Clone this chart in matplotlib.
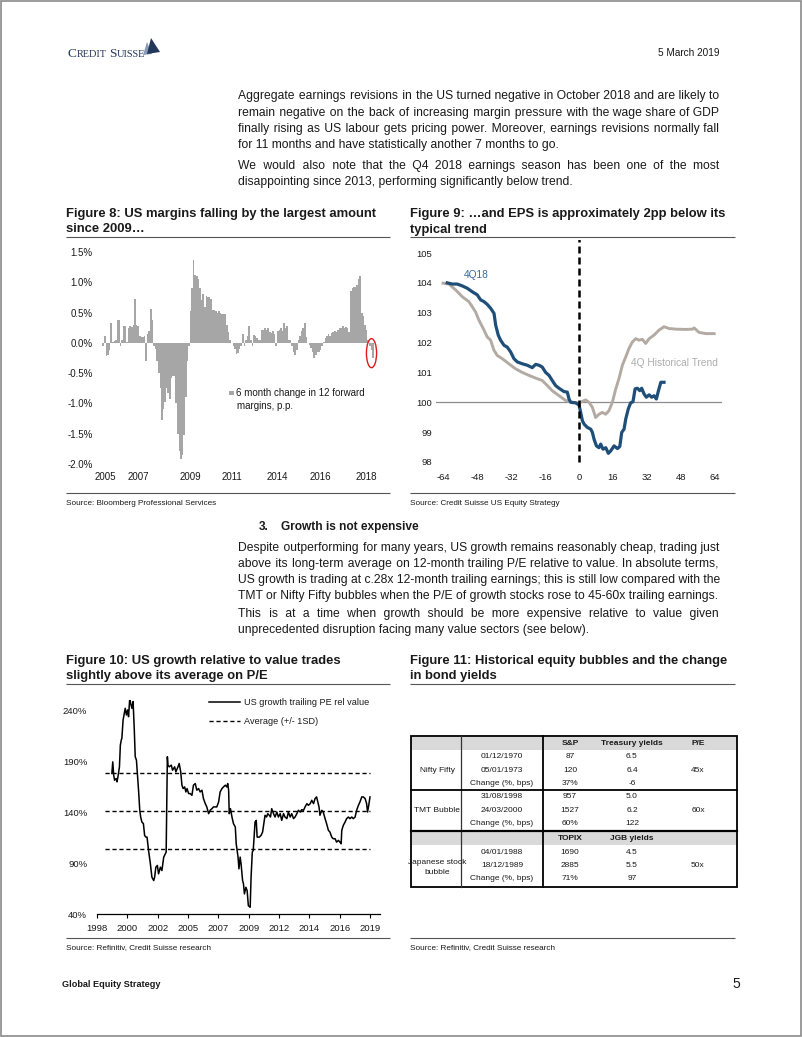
import numpy as np
import matplotlib.pyplot as plt
from matplotlib.patches import Ellipse, Rectangle, Polygon

W, H = 802, 1037
plt.rcParams['font.family'] = ['Liberation Sans', 'DejaVu Sans']
plt.rcParams['axes.unicode_minus'] = False

# ---- Figure 8: 6 month change in 12m forward margins (p.p.), one bar per month
margin_chg = [
    -0.05, 0.12, -0.22, -0.20, -0.12, 0.32, 0.02, 0.03, 0.05, 0.38,
    0.38, -0.05, 0.05, 0.28, 0.28, 0.02, 0.25, 0.28, 0.26, 0.30,
    0.72, 0.30, 0.28, 0.12, 0.10, 0.10, 0.12, -0.30, 0.15, 0.20,
    0.56, 0.38, -0.05, -0.10, -0.30, -0.50, -0.75, -1.28, -1.10, -0.98,
    -0.75, -0.82, -0.92, -0.58, -0.55, -0.55, -1.00, -1.50, -1.78, -1.92,
    -1.85, -1.52, -0.90, -0.30, -0.05, 0.52, 0.90, 1.37, 1.12, 1.10,
    1.05, 0.90, 0.70, 0.80, 0.60, 0.78, 0.75, 0.75, 0.72, 0.55,
    0.55, 0.53, 0.50, 0.52, 0.50, 0.48, 0.48, 0.48, 0.30, 0.18,
    0.05, 0.00, -0.05, -0.10, -0.18, -0.17, -0.10, -0.05, 0.15, -0.05,
    0.05, 0.12, 0.28, 0.05, -0.05, 0.13, 0.12, 0.08, 0.05, 0.05,
    0.22, 0.22, 0.25, 0.22, 0.24, 0.18, 0.16, 0.20, 0.15, -0.05,
    0.20, 0.22, 0.24, 0.20, 0.32, 0.25, 0.28, 0.05, 0.05, -0.05,
    -0.15, -0.20, -0.12, 0.05, 0.12, 0.20, 0.25, 0.32, 0.10, 0.00,
    -0.03, -0.08, -0.15, -0.25, -0.20, -0.15, -0.15, -0.12, -0.05, 0.02,
    0.08, 0.12, 0.14, 0.12, 0.16, 0.18, 0.20, 0.18, 0.22, 0.25,
    0.25, 0.28, 0.25, 0.27, 0.25, 0.18, 0.85, 0.90, 0.92, 0.92,
    0.95, 1.05, 1.10, 0.50, 0.45, 0.30, 0.22, 0.05, -0.05, -0.12,
    -0.25,
]
margin_tick_pos = [1, 22, 55, 81, 110, 137, 166]
margin_tick_lab = ['2005', '2007', '2009', '2011', '2014', '2016', '2018']

# ---- Figure 9: EPS path around reporting (weeks), index = 100 at 0
trend_x = [-64, -61.2, -58, -55, -51.8, -48.7, -47.1, -44.7, -43.2, -41.6,
           -40, -38.5, -36.1, -33, -29.8, -26.7, -23.5, -20.4, -17.3, -14.9,
           -12.6, -9.4, -6.3, -3.1, 0, 1.3, 3.1, 4.7, 6.3, 7.8,
           9.4, 11, 12.6, 14.1, 15.7, 17.3, 18.8, 20.4, 22, 23.5,
           25.1, 26.7, 28.3, 29.8, 31.4, 33, 35.3, 37.7, 40, 42.4,
           45.5, 50.2, 53.4, 54.2, 56.5, 59.7, 63.6]
trend_y = [103.99, 103.96, 103.76, 103.54, 103.37, 103.03, 102.75, 102.42, 102.19, 102.08,
           101.74, 101.57, 101.46, 101.29, 101.12, 101.0, 100.9, 100.81, 100.73, 100.56,
           100.39, 100.22, 100.06, 100.0, 99.98, 100.02, 100.08, 100.0, 99.83, 99.49,
           99.6, 99.66, 99.6, 99.72, 100.0, 100.45, 100.79, 101.24, 101.52, 101.8,
           102.02, 102.13, 102.08, 102.11, 101.97, 102.13, 102.25, 102.42, 102.53, 102.47,
           102.45, 102.44, 102.45, 102.49, 102.34, 102.3, 102.3]
q418_x = [-62, -59.7, -57.3, -55, -52.6, -50.2, -47.9, -46.3, -44.7, -43.2,
          -41.6, -40, -39.2, -38, -36.9, -35.3, -33.8, -32.2, -30.6, -29,
          -26.7, -24.3, -22, -20.4, -18.8, -17.3, -15.7, -14.1, -12.6, -11,
          -9.4, -7.1, -5.5, -4.7, -3.9, -1.6, 0, 0.8, 1.6, 2.4,
          3.9, 5.5, 6.3, 7.1, 8.2, 9.4, 10.2, 11.3, 12.6, 13.8,
          14.9, 16.5, 18.1, 19.2, 20.1, 21.2, 22, 23.2, 24.3, 25.4,
          26.4, 27.5, 28.6, 29.5, 30.6, 31.7, 33, 34.2, 35.3, 36.4,
          37.4, 38.5, 40]
q418_y = [104.0, 103.96, 103.96, 103.9, 103.82, 103.7, 103.6, 103.43, 103.37, 103.28,
          103.15, 102.98, 102.58, 102.25, 102.08, 101.91, 101.85, 101.69, 101.46, 101.35,
          101.29, 101.24, 101.16, 101.27, 101.24, 101.18, 101.0, 100.9, 100.73, 100.56,
          100.47, 100.36, 100.34, 100.11, 100.0, 99.98, 99.91, 99.66, 99.38, 99.27,
          99.16, 99.1, 98.99, 98.76, 98.54, 98.48, 98.6, 98.43, 98.48, 98.29,
          98.37, 98.54, 98.45, 98.52, 98.99, 99.1, 99.44, 99.78, 99.98, 100.02,
          100.45, 100.47, 100.39, 100.47, 100.28, 100.17, 100.25, 100.17, 100.22, 100.11,
          100.39, 100.67, 100.67]

# ---- Figure 10: US growth trailing PE relative to value (%), x in axis label steps
pe_points = [
    (0.49, 177.8), (0.52, 189.2), (0.55, 176.1), (0.58, 171.2), (0.63, 172.8), (0.66, 169.6), (0.69, 174.5), (0.74, 184.3),
    (0.77, 205.6), (0.80, 210.6), (0.82, 212.2), (0.86, 230.2), (0.90, 236.8), (0.93, 241.7), (0.97, 235.2), (1.01, 240.1),
    (1.04, 233.5), (1.08, 251.6), (1.11, 246.6), (1.15, 241.7), (1.19, 248.3), (1.23, 220.4), (1.26, 194.2), (1.30, 190.9),
    (1.34, 174.5), (1.37, 161.4), (1.41, 141.7), (1.44, 135.1), (1.48, 130.2), (1.53, 128.6), (1.57, 117.1), (1.61, 115.4),
    (1.65, 115.4), (1.70, 102.3), (1.76, 89.2), (1.81, 76.1), (1.87, 72.8), (1.90, 76.1), (1.94, 85.9), (1.99, 87.6),
    (2.03, 79.4), (2.09, 85.9), (2.14, 82.6), (2.20, 95.8), (2.25, 99.0), (2.28, 100.7), (2.32, 194.2), (2.34, 186.0),
    (2.38, 184.3), (2.45, 186.0), (2.49, 181.0), (2.56, 184.3), (2.60, 179.4), (2.67, 184.3), (2.71, 187.6), (2.76, 179.4),
    (2.80, 166.3), (2.84, 163.0), (2.89, 164.6), (2.93, 159.7), (2.97, 163.0), (3.02, 158.1), (3.07, 158.1), (3.13, 156.4),
    (3.18, 166.3), (3.24, 167.9), (3.29, 161.4), (3.35, 163.0), (3.40, 159.7), (3.46, 161.4), (3.51, 153.2), (3.57, 148.2),
    (3.62, 145.0), (3.68, 138.4), (3.73, 141.7), (3.79, 143.3), (3.84, 145.0), (3.90, 145.0), (3.95, 145.0), (4.01, 149.9),
    (4.06, 159.7), (4.12, 163.0), (4.17, 164.6), (4.23, 166.3), (4.28, 164.6), (4.31, 167.9), (4.34, 161.4), (4.36, 138.4),
    (4.40, 143.3), (4.45, 135.1), (4.50, 128.6), (4.56, 125.3), (4.59, 108.9), (4.62, 102.3), (4.65, 95.8), (4.68, 84.3),
    (4.72, 95.8), (4.75, 89.2), (4.80, 72.8), (4.83, 69.5), (4.86, 59.7), (4.91, 66.2), (4.95, 63.0), (4.99, 48.2),
    (5.05, 46.6), (5.08, 76.1), (5.12, 100.7), (5.15, 102.3), (5.18, 115.4), (5.21, 130.2), (5.25, 131.8), (5.28, 115.4),
    (5.35, 115.4), (5.41, 117.1), (5.46, 120.4), (5.50, 128.6), (5.54, 136.8), (5.59, 135.1), (5.63, 138.4), (5.68, 136.8),
    (5.72, 135.1), (5.76, 143.3), (5.82, 138.4), (5.87, 135.1), (5.93, 140.0), (5.98, 135.1), (6.04, 138.4), (6.09, 131.8),
    (6.15, 138.4), (6.20, 135.1), (6.26, 133.5), (6.31, 140.0), (6.37, 135.1), (6.42, 138.4), (6.48, 133.5), (6.53, 135.1),
    (6.59, 138.4), (6.64, 141.7), (6.70, 140.0), (6.75, 142.3), (6.81, 141.7), (6.86, 145.0), (6.92, 148.2), (6.97, 146.6),
    (7.03, 148.2), (7.08, 151.5), (7.14, 148.2), (7.19, 153.2), (7.24, 154.8), (7.28, 149.9), (7.32, 145.0), (7.35, 136.8),
    (7.41, 141.7), (7.46, 140.0), (7.52, 133.5), (7.57, 128.6), (7.63, 122.0), (7.68, 120.4), (7.74, 115.4), (7.79, 113.8),
    (7.85, 113.8), (7.90, 110.5), (7.96, 112.2), (8.01, 110.5), (8.05, 108.9), (8.07, 122.0), (8.12, 126.9), (8.18, 130.2),
    (8.23, 133.5), (8.29, 135.1), (8.34, 133.5), (8.40, 135.1), (8.45, 133.5), (8.51, 135.1), (8.56, 141.7), (8.62, 146.6),
    (8.67, 149.9), (8.73, 154.8), (8.78, 154.8), (8.84, 153.2), (8.89, 148.2), (8.92, 140.0), (8.96, 146.6), (9.00, 154.8),
]
pe_avg, pe_sd = 141.0, 37.0
pe_tick_lab = ['1998', '2000', '2002', '2005', '2007', '2009', '2012', '2014', '2016', '2019']

# ---- Figure 11 table
tbl_headers = [['S&P', 'Treasury yields', 'P/E'], ['TOPIX', 'JGB yields', '']]
bubble_names = ['Nifty Fifty', 'TMT Bubble', 'Japanese stock\nbubble']
bubble_dates = [['01/12/1970', '05/01/1973', 'Change (%, bps)'],
                ['31/08/1998', '24/03/2000', 'Change (%, bps)'],
                ['04/01/1988', '18/12/1989', 'Change (%, bps)']]
index_vals = [['87', '120', '37%'], ['957', '1527', '60%'], ['1690', '2885', '71%']]
yield_vals = [['6.5', '6.4', '-6'], ['5.0', '6.2', '122'], ['4.5', '5.5', '97']]
pe_vals = ['45x', '60x', '50x']

# ---- text
para1 = ["Aggregate earnings revisions in the US turned negative in October 2018 and are likely to",
         "remain negative on the back of increasing margin pressure with the wage share of GDP",
         "finally rising as US labour gets pricing power. Moreover, earnings revisions normally fall",
         "for 11 months and have statistically another 7 months to go."]
para2 = ["We would also note that the Q4 2018 earnings season has been one of the most",
         "disappointing since 2013, performing significantly below trend."]
para3 = ["Despite outperforming for many years, US growth remains reasonably cheap, trading just",
         "above its long-term average on 12-month trailing P/E relative to value. In absolute terms,",
         "US growth is trading at c.28x 12-month trailing earnings; this is still low compared with the",
         "TMT or Nifty Fifty bubbles when the P/E of growth stocks rose to 45-60x trailing earnings."]
para4 = ["This is at a time when growth should be more expensive relative to value given",
         "unprecedented disruption facing many value sectors (see below)."]

TXT = '#1a1a1a'
BODY = 8.7
TITLE = 9.4
HAIR = '\u200a'
fig = plt.figure(figsize=(W / 100, H / 100), dpi=100)
page = fig.add_axes([0, 0, 1, 1])
page.set_xlim(0, W)
page.set_ylim(H, 0)
page.axis('off')
renderer = fig.canvas.get_renderer()


def ax_at(x0, y0, x1, y1):
    a = fig.add_axes([x0 / W, 1 - y1 / H, (x1 - x0) / W, (y1 - y0) / H])
    a.patch.set_visible(False)
    return a


def txt(x, y, s, size=BODY, **kw):
    kw.setdefault('va', 'baseline')
    kw.setdefault('color', TXT)
    return page.text(x, y, s, fontsize=size, **kw)


def measure(s, size, **kw):
    t = txt(0, 0, s, size, **kw)
    w = t.get_window_extent(renderer).width
    t.remove()
    return w


def rule(x0, x1, y, lw=0.8, color='#555555'):
    page.plot([x0, x1], [y, y], color=color, lw=lw, solid_capstyle='butt')


def justify(lines, x0, x1, y0, dy, size=BODY):
    # each line stays one text object; word gaps are widened with hair spaces
    hair = (measure('x' + HAIR * 40 + 'x', size) - measure('xx', size)) / 40
    for k, line in enumerate(lines):
        if k < len(lines) - 1 and hair > 0:
            words = line.split(' ')
            extra = (x1 - x0) - measure(line, size)
            total = max(0, int(round(extra / hair)))
            base, rem = divmod(total, len(words) - 1)
            s = words[0]
            for i, w in enumerate(words[1:]):
                s += ' ' + HAIR * (base + (1 if i < rem else 0)) + w
            line = s
        txt(x0, y0 + k * dy, line, size)


# page frame
page.add_patch(Rectangle((0.7, 0.7), W - 1.4, H - 1.4, fill=False, ec='#8a8a8a', lw=1.2, clip_on=False))

# header
x = 67.5
for s, sz in [('C', 9.6), ('REDIT', 7.4), (' ', 7.4), ('S', 9.6), ('UISSE', 7.4)]:
    t = txt(x, 57, s, sz, color='#23375a', family='Liberation Serif')
    x += t.get_window_extent(renderer).width
page.add_patch(Polygon([(143, 55), (147, 42), (152, 54)], closed=True, color='#8a9bb5', lw=0))
page.add_patch(Polygon([(147, 54), (151, 38), (160, 52)], closed=True, color='#23375a', lw=0))
txt(720, 56, '5 March 2019', 7.2, ha='right')

# body paragraphs
justify(para1, 238, 719, 99.5, 16.3)
justify(para2, 238, 719, 168.5, 16.3)

# titles row 1
txt(66, 217, 'Figure 8: US margins falling by the largest amount', TITLE, weight='bold')
txt(66, 232.5, 'since 2009\u2026', TITLE, weight='bold')
txt(410, 217, 'Figure 9: \u2026and EPS is approximately 2pp below its', TITLE, weight='bold')
txt(410, 232.5, 'typical trend', TITLE, weight='bold')
rule(66, 390, 236.5)
rule(410, 735, 236.5)
rule(66, 390, 493)
rule(410, 735, 493)
txt(66, 505, 'Source: Bloomberg Professional Services', 5.9)
txt(410, 505, 'Source: Credit Suisse US Equity Strategy', 5.9)

# ---- Figure 8 chart
ax8 = ax_at(98, 252, 378, 464)
n = len(margin_chg)
ax8.bar(np.arange(n), margin_chg, width=1.0, color='#a6a6a6', lw=0)
ax8.set_xlim(-3.3, n - 1 + 3.2)
ax8.set_ylim(-2.0, 1.5)
ax8.set_yticks(np.arange(-2.0, 1.51, 0.5))
ax8.set_yticklabels([f'{v:.1f}%' for v in np.arange(-2.0, 1.51, 0.5)])
ax8.set_xticks(margin_tick_pos)
ax8.set_xticklabels(margin_tick_lab)
ax8.tick_params(length=0, labelsize=7, labelcolor=TXT)
ax8.tick_params(axis='y', pad=4)
ax8.tick_params(axis='x', pad=6)
for sp in ax8.spines.values():
    sp.set_visible(False)
ax8.add_patch(Ellipse((169.1, -0.17), 6.4, 0.48, fill=False, ec='#e0191e', lw=1.0, clip_on=False))
page.add_patch(Rectangle((229, 390.5), 4.5, 4.5, color='#a6a6a6', lw=0))
txt(236, 396, '6 month change in 12 forward', 7)
txt(237, 409, 'margins, p.p.', 7)

# ---- Figure 9 chart
ax9 = ax_at(436, 240, 722, 466)
ax9.set_xlim(-64 - 7 / 2.125, 64 + 7 / 2.125)
ax9.set_ylim(98 - 4 / 29.857, 105 + 13 / 29.857)
ax9.axhline(100, color='#8c8c8c', lw=0.9)
ax9.plot(trend_x, trend_y, color='#b3aba3', lw=2.1, solid_joinstyle='round')
ax9.plot(q418_x, q418_y, color='#1f4e79', lw=2.3, solid_joinstyle='round')
ax9.plot([0, 0], [98, 105.5], color='black', lw=1.8, ls=(0, (2.8, 1.6)))
ax9.set_xticks(np.arange(-64, 65, 16))
ax9.set_yticks(np.arange(98, 106, 1))
ax9.tick_params(length=0, labelsize=6.8, labelcolor=TXT)
ax9.tick_params(axis='y', pad=3)
ax9.tick_params(axis='x', pad=5)
for sp in ax9.spines.values():
    sp.set_visible(False)
ax9.text(-48.5, 104.25, '4Q18', fontsize=7.3, color='#3d6b9a', ha='center', va='center')
ax9.text(45, 101.33, '4Q Historical Trend', fontsize=7.3, color='#adadad', ha='center', va='center')

# section 3
txt(259, 530, '3.', 8.6, weight='bold')
txt(281, 530, 'Growth is not expensive', 8.6, weight='bold')
justify(para3, 238, 719, 550.5, 16.0)
justify(para4, 238, 719, 617.5, 16.0)

# titles row 2
txt(66, 664, 'Figure 10: US growth relative to value trades', TITLE, weight='bold')
txt(66, 679.5, 'slightly above its average on P/E', TITLE, weight='bold')
txt(410, 664, 'Figure 11: Historical equity bubbles and the change', TITLE, weight='bold')
txt(410, 679.5, 'in bond yields', TITLE, weight='bold')
rule(66, 390, 683.5)
rule(410, 735, 683.5)
rule(66, 390, 937.5)
rule(410, 735, 937.5)
txt(66, 949, 'Source: Refinitiv, Credit Suisse research', 5.9)
txt(410, 949, 'Source: Refinitiv, Credit Suisse research', 5.9)

# ---- Figure 10 chart
ax10 = ax_at(97, 700, 380, 914)
pe_x = [p[0] for p in pe_points]
pe_y = [p[1] for p in pe_points]
ax10.set_xlim(0, 283 / 30.33)
ax10.set_ylim(40, 249.85)
for lvl in [pe_avg + pe_sd, pe_avg, pe_avg - pe_sd]:
    ax10.plot([0.27, 9.0], [lvl, lvl], color='black', lw=1.0, ls=(0, (3, 2)))
ax10.plot(pe_x, pe_y, color='black', lw=1.1)
ax10.set_xticks(range(len(pe_tick_lab)))
ax10.set_xticklabels(pe_tick_lab)
ax10.set_yticks([40, 90, 140, 190, 240])
ax10.set_yticklabels(['40%', '90%', '140%', '190%', '240%'])
ax10.tick_params(axis='y', length=0, pad=7, labelsize=6.8, labelcolor=TXT)
ax10.tick_params(axis='x', length=3, width=0.8, pad=4, labelsize=6.8, labelcolor=TXT)
for k, sp in ax10.spines.items():
    sp.set_visible(k == 'bottom')
ax10.spines['bottom'].set_linewidth(0.9)
page.plot([209, 240], [702, 702], color='black', lw=1.1)
page.plot([209, 240], [721, 721], color='black', lw=1.0, ls=(0, (3, 2)))
txt(244, 705, 'US growth trailing PE rel value', 6.6)
txt(244, 724, 'Average (+/- 1SD)', 6.6)

# ---- Figure 11 table
TL, TR, TT, TB = 411, 737, 736, 887
c1, c2 = 461, 543
row_h = 13.35
cx = [437, 502, 570, 632, 698]
page.add_patch(Rectangle((TL, 737), TR - TL, 13, color='#d9d9d9', lw=0))
page.add_patch(Rectangle((TL, 831), TR - TL, 14, color='#d9d9d9', lw=0))
head_y = [743.5, 838.5]
group_y0 = [757, 797, 852]
TS = 6.0
for hy, hdr in zip(head_y, tbl_headers):
    for xx, s in zip(cx[2:], hdr):
        txt(xx, hy, s, TS, weight='bold', ha='center', va='center')
for g in range(3):
    y0 = group_y0[g]
    for r in range(3):
        yy = y0 + r * row_h
        txt(cx[1], yy, bubble_dates[g][r], TS, ha='center', va='center')
        txt(cx[2], yy, index_vals[g][r], TS, ha='center', va='center')
        txt(cx[3], yy, yield_vals[g][r], TS, ha='center', va='center')
    ymid = y0 + row_h
    txt(cx[0], ymid + (2 if g == 2 else 0), bubble_names[g], TS, ha='center', va='center', linespacing=1.5)
    txt(cx[4], ymid, pe_vals[g], TS, ha='center', va='center')
page.add_patch(Rectangle((TL, TT), TR - TL, TB - TT, fill=False, ec='black', lw=1.3))
page.plot([c1, c1], [TT, TB], color='#333333', lw=0.9)
page.plot([c2, c2], [TT, TB], color='black', lw=1.3)
page.plot([TL, TR], [790, 790], color='black', lw=1.3)
page.plot([TL, TR], [830.5, 830.5], color='black', lw=1.6)

# footer
txt(62, 987, 'Global Equity Strategy', 6.6, weight='bold')
txt(736, 988, '5', 10, ha='center')

fig.savefig('out.png', dpi=100)
